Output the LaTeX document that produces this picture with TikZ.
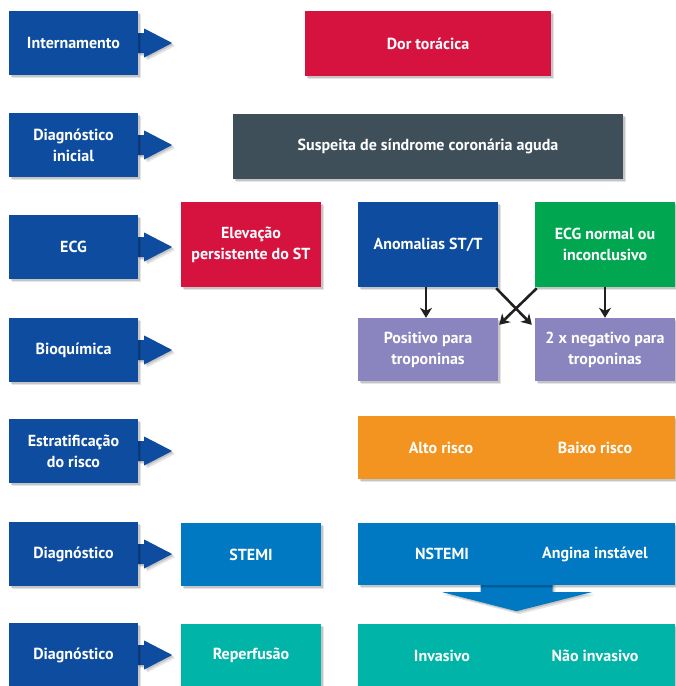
\documentclass[tikz,border=0pt]{standalone}
\usepackage{fontspec}
\setmainfont{PT Sans}
\usetikzlibrary{shadows,arrows.meta,calc}
\definecolor{navy}{HTML}{0E4CA0}
\definecolor{crimson}{HTML}{D6133F}
\definecolor{slate}{HTML}{3E4F5A}
\definecolor{ecggreen}{HTML}{00A650}
\definecolor{lavender}{HTML}{8A84BF}
\definecolor{riskorange}{HTML}{F39320}
\definecolor{skyblue}{HTML}{0078C2}
\definecolor{tealc}{HTML}{00B4A8}
\definecolor{arrowc}{HTML}{231F20}
\pgfdeclarelayer{bg}
\pgfsetlayers{bg,main}
\begin{document}
\begin{tikzpicture}[x=1pt,y=-1pt,
  shad/.style={general shadow={fill=black,opacity=0.10,shadow xshift=3pt,shadow yshift=-3pt},
               general shadow={fill=black,opacity=0.14,shadow xshift=1.5pt,shadow yshift=-1.5pt}},
  box/.style={rectangle,inner sep=2pt,align=center,text=white,font=\bfseries\fontsize{16}{21}\selectfont,shad},
  lbl/.style={box,fill=navy,minimum width=129pt,minimum height=64pt},
  wide/.style={box,minimum width=140pt,minimum height=63pt},
  txt/.style={inner sep=0pt,text=white,font=\bfseries\fontsize{16}{21}\selectfont},
  conn/.style={draw=arrowc,line width=2.6pt,-{Stealth[length=10pt,width=12pt,inset=3pt]}}
]
\useasboundingbox (0,0) rectangle (676,686);

% left column labels
\node[lbl] (l1) at (73.5,43) {Internamento};
\node[lbl] (l2) at (73.5,145) {Diagnóstico\\inicial};
\node[lbl] (l3) at (73.5,247) {ECG};
\node[lbl] (l4) at (73.5,350) {Bioquímica};
\node[lbl] (l5) at (73.5,451) {Estratificação\\do risco};
\node[lbl] (l6) at (73.5,554) {Diagnóstico};
\node[lbl] (l7) at (73.5,655) {Diagnóstico};

\begin{pgfonlayer}{bg}
\foreach \n in {l1,l2,l3,l4,l5,l6,l7}{
  \fill[navy,shad] ($(\n.east)+(-1,-10)$) -- ++(7,0) -- ++(0,-4.5) -- ++(28,14.5) -- ++(-28,14.5) -- ++(0,-4.5) -- ++(-7,0) -- cycle;
}
\end{pgfonlayer}

% top
\node[box,fill=crimson,minimum width=246pt,minimum height=65pt] (dor) at (428,43.5) {Dor torácica};
\node[box,fill=slate,minimum width=390pt,minimum height=65pt] (susp) at (428,146.5) {Suspeita de síndrome coronária aguda};

% ECG row
\node[wide,fill=crimson,minimum height=85pt] (elev) at (251,244.5) {Elevação\\persistente do ST};
\node[wide,fill=navy,minimum height=85pt] (anom) at (428,244.5) {Anomalias ST/T};
\node[wide,fill=ecggreen,minimum height=85pt] (ecgn) at (605,244.5) {ECG normal ou\\inconclusivo};

% Bioquimica row
\node[wide,fill=lavender] (pos) at (428,349.5) {Positivo para\\troponinas};
\node[wide,fill=lavender] (neg) at (605,349.5) {2 x negativo para\\troponinas};

% risk
\node[box,fill=riskorange,minimum width=317pt,minimum height=63pt] (risk) at (516.5,447.5) {};
\node[txt] (alto) at ($(risk.center)+(-75.5,0)$) {Alto risco};
\node[txt] (baixo) at ($(risk.center)+(78.5,0)$) {Baixo risco};

% diagnostico
\node[wide,fill=skyblue] (stemi) at (251,554.5) {STEMI};
\node[box,fill=skyblue,minimum width=317pt,minimum height=62pt] (nst) at (516.5,554) {};
\node[txt] (nstemi) at ($(nst.center)+(-74.5,0)$) {NSTEMI};
\node[txt] (angina) at ($(nst.center)+(78.5,0)$) {Angina instável};

\begin{pgfonlayer}{bg}
\fill[skyblue,shad] ($(nst.south)+(-36,-3)$) -- ($(nst.south)+(-36,7)$) -- ($(nst.south)+(-74,7)$) -- ($(nst.south)+(0,26)$) -- ($(nst.south)+(75,7)$) -- ($(nst.south)+(36,7)$) -- ($(nst.south)+(36,-3)$) -- cycle;
\end{pgfonlayer}

% treatment
\node[wide,fill=tealc] (rep) at (251,655.5) {Reperfusão};
\node[box,fill=tealc,minimum width=317pt,minimum height=63pt] (trt) at (516.5,655.5) {};
\node[txt] (inv) at ($(trt.center)+(-74.5,0)$) {Invasivo};
\node[txt] (ninv) at ($(trt.center)+(78.5,0)$) {Não invasivo};

% connectors
\draw[conn] (anom.south -| 426,0) -- (pos.north -| 426,0);
\draw[conn] (ecgn.south) -- (neg.north);
\draw[conn] ($(anom.south east)+(-2,1)$) -- ($(neg.north west)+(-3,7)$);
\draw[conn] ($(ecgn.south west)+(2,1)$) -- ($(pos.north east)+(1,7)$);
\end{tikzpicture}
\end{document}
